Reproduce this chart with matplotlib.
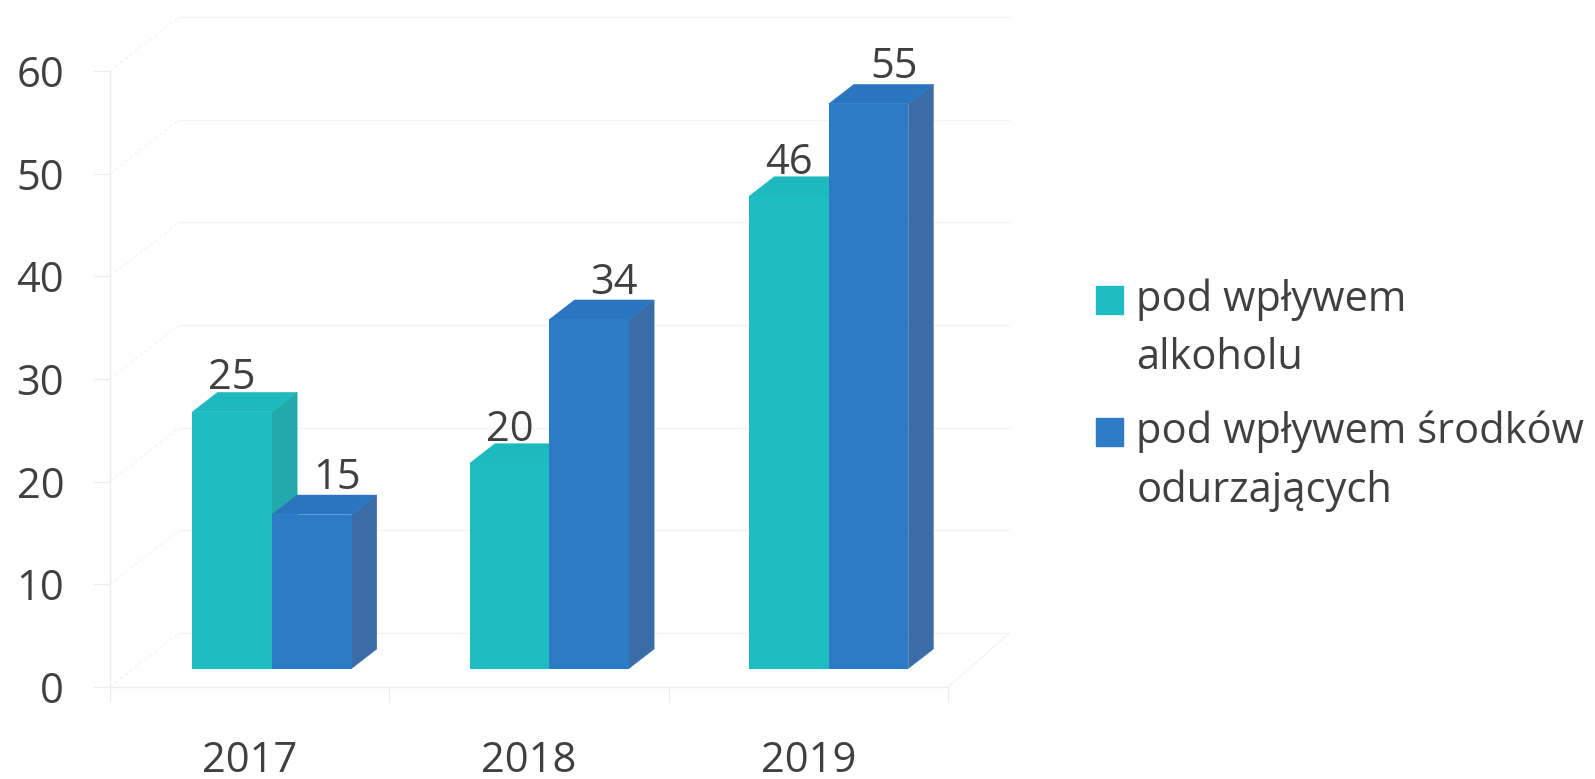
import matplotlib
matplotlib.use("Agg")
from matplotlib import pyplot as plt
from matplotlib.patches import Polygon, Patch
import numpy as np

years = ["2017", "2018", "2019"]
alkohol = [25, 20, 46]
odurzajace = [15, 34, 55]
y_ticks = [0, 10, 20, 30, 40, 50, 60]
labels = ["pod wpływem\nalkoholu", "pod wpływem środków\nodurzających"]

TEAL = "#1ebdc3"
TEAL_TOP = "#1eb9be"
TEAL_SIDE = "#22a9ac"
BLUE = "#2b7bc6"
BLUE_TOP = "#2a75c0"
BLUE_SIDE = "#3a6ca8"
TEXT = "#404040"
GRID = "#f4f4f4"
AXIS = "#ececec"

plt.rcParams["font.family"] = ["Open Sans", "DejaVu Sans"]

W, H = 1595, 779
fig = plt.figure(figsize=(W / 100, H / 100), dpi=100, facecolor="white")
# axes rectangle is the front plane of the fake 3d box
left, right = 110, 948
top, bottom = 71, 687
ax = fig.add_axes([left / W, 1 - bottom / H, (right - left) / W, (bottom - top) / H])
ax.set_xlim(0, 3)
ax.set_ylim(0, 60)
ax.patch.set_alpha(0)

# depth of the back wall and of the bars, in data units
wall_dx, wall_dy = 0.247, 5.26
bar_dx, bar_dy = 0.09, 1.9
shift_x = [0.08, 0.073, 0.073]
base = 1.8
width = 0.285
FS = 30


def face(pts, color, z):
    ax.add_patch(Polygon(pts, closed=True, facecolor=color, edgecolor=color,
                         lw=0.3, zorder=z, clip_on=False))


def bar3d(x0, value, color, top_c, side_c, z):
    x1 = x0 + width
    y0, y1 = base, base + value
    ax.bar(x0, value, width=width, bottom=base, align="edge", color=color,
           zorder=z + 0.2, clip_on=False)
    face([(x1, y0), (x1 + bar_dx, y0 + bar_dy), (x1 + bar_dx, y1 + bar_dy), (x1, y1)], side_c, z)
    face([(x0, y1), (x0 + bar_dx, y1 + bar_dy), (x1 + bar_dx, y1 + bar_dy), (x1, y1)], top_c, z + 0.1)


# walls and grid
for v in y_ticks:
    ax.plot([wall_dx, 3.22], [v + wall_dy, v + wall_dy], color=GRID, lw=1, zorder=1, clip_on=False)
    ax.plot([0, wall_dx], [v, v + wall_dy], color=GRID, lw=0.9, ls=(0, (3, 2)), zorder=1, clip_on=False)
ax.plot([3, 3.22], [0, wall_dy], color=GRID, lw=1, zorder=1, clip_on=False)

for i in range(len(years)):
    center = i + 0.5 + shift_x[i]
    bar3d(center - width, alkohol[i], TEAL, TEAL_TOP, TEAL_SIDE, 3 + i)
    bar3d(center, odurzajace[i], BLUE, BLUE_TOP, BLUE_SIDE, 3.5 + i)
    ax.text(center - width / 2, alkohol[i] + base + bar_dy + 0.3, str(alkohol[i]),
            ha="center", va="baseline", fontsize=FS, color=TEXT, zorder=10)
    ax.text(center + width / 2 + bar_dx, odurzajace[i] + base + bar_dy + 0.6, str(odurzajace[i]),
            ha="center", va="baseline", fontsize=FS, color=TEXT, zorder=10)

for s in ["top", "right"]:
    ax.spines[s].set_visible(False)
for s in ["left", "bottom"]:
    ax.spines[s].set_color(AXIS)
    ax.spines[s].set_linewidth(1)

ax.set_yticks(y_ticks)
ax.set_xticks([0, 1, 2, 3])
ax.set_xticklabels([])
ax.set_xticks([0.5, 1.5, 2.5], labels=years, minor=True)
ax.tick_params(axis="x", which="major", length=11, color=AXIS)
ax.tick_params(axis="x", which="minor", length=0, pad=38, labelsize=FS, labelcolor=TEXT)
ax.tick_params(axis="y", length=12, color=AXIS, pad=21, labelsize=FS, labelcolor=TEXT)

handles = [Patch(facecolor=TEAL, edgecolor=TEAL), Patch(facecolor=BLUE, edgecolor=BLUE)]
leg = fig.legend(handles, labels, loc="upper left", bbox_to_anchor=(1096 / W, 1 - 279 / H),
                 bbox_transform=fig.transFigure, frameon=False, fontsize=FS,
                 labelcolor=TEXT, handlelength=0.65, handleheight=0.65, handletextpad=0.32,
                 labelspacing=0.76, borderpad=0, borderaxespad=0)
for t in leg.get_texts():
    t.set_linespacing(1.49)
# squares sit on the first line of each label
for p in leg.get_patches():
    p.set_y(p.get_y() + 22)

fig.savefig("out.png", dpi=100, facecolor="white")
